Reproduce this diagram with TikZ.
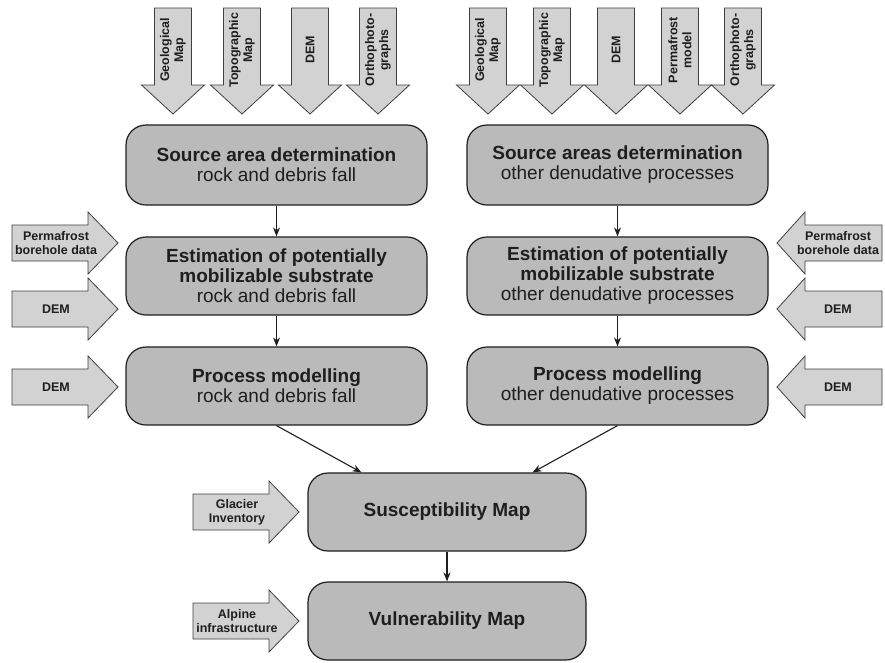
\documentclass[tikz,border=0pt]{standalone}
\usepackage{fontspec}
\setmainfont{Liberation Sans}
\usetikzlibrary{arrows.meta,calc}
\definecolor{boxfill}{RGB}{186,186,186}
\definecolor{arrfill}{RGB}{210,210,210}
\definecolor{ink}{RGB}{30,30,30}
\tikzset{
  proc/.style={draw=ink, line width=1.2pt, fill=boxfill, rounded corners=20pt,
    minimum width=301pt, minimum height=78pt, inner sep=0pt, align=center,
    font=\fontsize{19}{20}\selectfont, text=ink},
  inarrow/.style={draw=ink!85, line width=0.8pt, fill=arrfill},
  intext/.style={font=\fontsize{12.5}{14}\selectfont\bfseries, align=center, text=ink, inner sep=0pt},
  flow/.style={draw=ink, line width=1.1pt, -{Stealth[length=9pt,width=7pt]}},
}
\newcommand{\darr}[3]{%
  \path[inarrow] (#2-18.5,8) -- (#2+18.5,8) -- (#2+18.5,85) -- (#2+31.5,85) -- (#2,114)
    -- (#2-31.5,85) -- (#2-18.5,85) -- cycle;
  \node[intext, rotate=90] (#1) at (#2,50) {#3};
}
\newcommand{\rarr}[4]{%
  \path[inarrow] (#2,#3-18) -- (#2+76,#3-18) -- (#2+76,#3-31) -- (#2+106,#3)
    -- (#2+76,#3+31) -- (#2+76,#3+18) -- (#2,#3+18) -- cycle;
  \node[intext] (#1) at (#2+44,#3) {#4};
}
\newcommand{\larr}[4]{%
  \path[inarrow] (#2,#3) -- (#2+28,#3-31) -- (#2+28,#3-18) -- (#2+105,#3-18)
    -- (#2+105,#3+18) -- (#2+28,#3+18) -- (#2+28,#3+31) -- cycle;
  \node[intext] (#1) at (#2+61,#3) {#4};
}
\begin{document}
\begin{tikzpicture}[x=1pt,y=-1pt]
\fill[white] (0,0) rectangle (885,662);
\useasboundingbox (0,0) rectangle (885,662);

% top input arrows, left
\darr{tl1}{173}{Geological\\Map}
\darr{tl2}{242}{Topographic\\Map}
\darr{tl3}{310}{DEM}
\darr{tl4}{378}{Orthophoto-\\graphs}
% top input arrows, right
\darr{tr1}{488}{Geological\\Map}
\darr{tr2}{552}{Topographic\\Map}
\darr{tr3}{616}{DEM}
\darr{tr4}{680}{Permafrost\\model}
\darr{tr5}{743}{Orthophoto-\\graphs}

% side input arrows
\rarr{lp}{12}{243}{Permafrost\\borehole data}
\rarr{ld1}{12}{309}{DEM}
\rarr{ld2}{12}{387}{DEM}
\larr{rp}{777}{243}{Permafrost\\borehole data}
\larr{rd1}{777}{309}{DEM}
\larr{rd2}{777}{387}{DEM}
\rarr{gl}{193}{512}{Glacier\\Inventory}
\rarr{al}{193}{621}{Alpine\\infrastructure}

% process boxes
\node[proc, minimum height=80pt] (la) at (276.5,165) {\textbf{Source area determination}\\rock and debris fall};
\node[proc, minimum height=80pt] (ra) at (617.5,165) {\textbf{Source areas determination}\\other denudative processes};
\node[proc] (lb) at (276.5,276) {\textbf{Estimation of potentially}\\\textbf{mobilizable substrate}\\rock and debris fall};
\node[proc] (rb) at (617.5,276) {\textbf{Estimation of potentially}\\\textbf{mobilizable substrate}\\other denudative processes};
\node[proc] (lc) at (276.5,386) {\textbf{Process modelling}\\rock and debris fall};
\node[proc] (rc) at (617.5,386) {\textbf{Process modelling}\\other denudative processes};
\node[proc, minimum width=278pt] (sus) at (447,512) {\textbf{Susceptibility Map}};
\node[proc, minimum width=278pt] (vul) at (447,621) {\textbf{Vulnerability Map}};

% connectors
\draw[flow] (la) -- (lb);
\draw[flow] (lb) -- (lc);
\draw[flow] (ra) -- (rb);
\draw[flow] (rb) -- (rc);
\coordinate (sl) at ($(sus.north west)+(54,0)$);
\coordinate (sr) at ($(sus.north east)+(-54,0)$);
\draw[flow] (lc.south) -- (sl);
\draw[flow] (rc.south) -- (sr);
\draw[flow] (sus) -- (vul);
\end{tikzpicture}
\end{document}
